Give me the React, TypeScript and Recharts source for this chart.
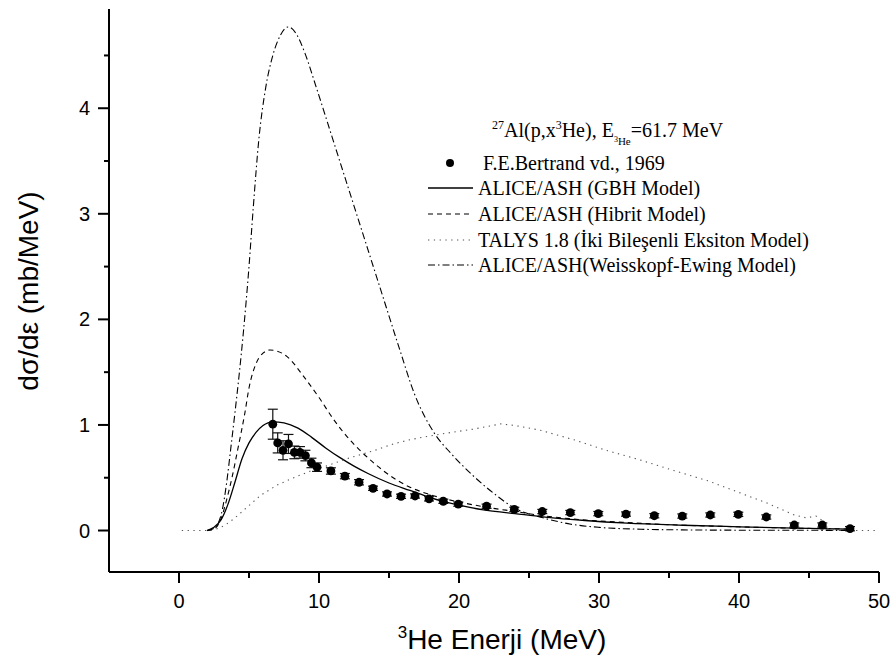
import React from "react";
import { ComposedChart, Line, Scatter, XAxis, YAxis, ErrorBar, Legend, Label } from "recharts";

// experimental points, F.E.Bertrand vd., 1969
const expE = [6.7, 7.05, 7.43, 7.82, 8.24, 8.64, 9.03, 9.46, 9.86, 10.85, 11.85, 12.86, 13.86, 14.86, 15.86, 16.86, 17.86, 18.88, 19.95, 21.97, 23.95, 25.95, 27.95, 29.95, 31.93, 33.95, 35.95, 37.95, 39.95, 41.95, 43.95, 45.95, 47.93];
const expY = [1.007, 0.83, 0.76, 0.82, 0.74, 0.74, 0.71, 0.64, 0.6, 0.564, 0.515, 0.457, 0.4, 0.346, 0.324, 0.327, 0.3, 0.277, 0.25, 0.23, 0.2, 0.18, 0.17, 0.16, 0.156, 0.14, 0.137, 0.147, 0.153, 0.128, 0.052, 0.052, 0.017];
const expErr = [0.142, 0.095, 0.09, 0.09, 0.06, 0.055, 0.05, 0.045, 0.04, 0.03, 0.025, 0.025, 0.02, 0.02, 0.02, 0.02, 0.02, 0.02, 0.02, 0.02, 0.02, 0.02, 0.02, 0.02, 0.02, 0.02, 0.02, 0.02, 0.02, 0.02, 0.02, 0.02, 0.02];

// ALICE/ASH (GBH Model)
const gbhE = [2.0, 2.5, 3.0, 3.5, 4.0, 4.5, 5.0, 5.5, 6.0, 6.7, 7.5, 8.5, 9.5, 10.5, 11.5, 12.5, 13.5, 15, 16.5, 18, 20, 22, 24, 26, 29, 32, 36, 40, 44, 48];
const gbhY = [0, 0.03, 0.1, 0.25, 0.46, 0.68, 0.83, 0.93, 0.995, 1.03, 1.02, 0.97, 0.88, 0.78, 0.69, 0.61, 0.54, 0.45, 0.38, 0.31, 0.24, 0.19, 0.16, 0.13, 0.095, 0.07, 0.05, 0.035, 0.022, 0.014];

// ALICE/ASH (Hibrit Model)
const hibE = [2.0, 2.5, 3.0, 3.4, 3.8, 4.2, 4.7, 5.0, 5.5, 6.0, 6.5, 7.0, 7.7, 8.9, 10.0, 11.0, 12.0, 13.0, 14.0, 15.3, 16.5, 17.7, 19, 20, 22, 24, 26, 29, 32, 36, 40, 44, 48];
const hibY = [0, 0.015, 0.11, 0.29, 0.51, 0.77, 1.11, 1.35, 1.58, 1.68, 1.71, 1.7, 1.65, 1.46, 1.26, 1.06, 0.89, 0.75, 0.63, 0.5, 0.41, 0.35, 0.3, 0.27, 0.22, 0.18, 0.14, 0.1, 0.075, 0.05, 0.035, 0.022, 0.014];

// TALYS 1.8
const talE = [0.2, 1, 2, 2.6, 3.0, 3.5, 4.0, 4.6, 5.2, 5.8, 6.4, 7.0, 8.2, 9.5, 10.5, 12, 13, 14, 15.3, 16.5, 17.7, 19, 20, 21, 22, 23, 24, 25.8, 28.2, 30.5, 32.9, 35.3, 37.8, 39.6, 42, 43.9, 44.8, 45.5, 45.9, 46.3, 47, 48, 49, 49.8];
const talY = [0, 0, 0, 0.01, 0.03, 0.07, 0.12, 0.19, 0.26, 0.33, 0.38, 0.43, 0.5, 0.57, 0.61, 0.68, 0.72, 0.76, 0.82, 0.86, 0.89, 0.92, 0.94, 0.96, 0.985, 1.01, 0.995, 0.95, 0.86, 0.76, 0.67, 0.57, 0.47, 0.38, 0.26, 0.15, 0.12, 0.137, 0.1, 0.02, 0, 0, 0, 0];

// ALICE/ASH (Weisskopf-Ewing Model)
const weE = [2.0, 2.5, 2.8, 3.1, 3.4, 3.7, 4.0, 4.3, 4.6, 5.0, 5.3, 5.7, 6.2, 6.7, 7.2, 7.8, 8.4, 9.0, 9.8, 11, 12.2, 13.4, 14.6, 15.8, 16.8, 18.2, 19.5, 21, 22.5, 24, 26, 28, 30, 33, 36, 40, 45, 48];
const weY = [0, 0.02, 0.07, 0.2, 0.45, 0.78, 1.12, 1.48, 1.88, 2.5, 3.05, 3.7, 4.2, 4.5, 4.68, 4.77, 4.7, 4.52, 4.2, 3.7, 3.2, 2.7, 2.2, 1.7, 1.3, 0.93, 0.72, 0.52, 0.35, 0.21, 0.12, 0.06, 0.03, 0.012, 0.006, 0.003, 0.002, 0.001];

const expName = "F.E.Bertrand vd., 1969";
const seriesNames = [
  "ALICE/ASH (GBH Model)",
  "ALICE/ASH (Hibrit Model)",
  "TALYS 1.8 (İki Bileşenli Eksiton Model)",
  "ALICE/ASH(Weisskopf-Ewing Model)",
];

const xTicks = [0, 5, 10, 15, 20, 25, 30, 35, 40, 45, 50];
const yTicks = [0, 0.5, 1, 1.5, 2, 2.5, 3, 3.5, 4, 4.5];

const pairs = (xs: number[], ys: number[]) => xs.map((x, i) => ({ x, y: ys[i] }));
const expData = expE.map((x, i) => ({ x, y: expY[i], err: expErr[i] }));

const SANS = "'Liberation Sans', Arial, sans-serif";
const SERIF = "'Liberation Serif', 'Times New Roman', serif";

const styles = [
  { stroke: "#000", dash: undefined, width: 1.3 },
  { stroke: "#000", dash: "5 4", width: 1.1 },
  { stroke: "#555", dash: "1.3 4.5", width: 1.1 },
  { stroke: "#000", dash: "7 3 1.5 3", width: 1.1 },
];

const XTick = (props: any) => {
  const { x, y, payload } = props;
  const major = payload.value % 10 === 0;
  return (
    <g>
      <line x1={x} y1={y} x2={x} y2={y + (major ? 11 : 6)} stroke="#000" strokeWidth={2} />
      {major && (
        <text x={x} y={y + 36} textAnchor="middle" fontSize={20} fontFamily={SANS} fill="#000">
          {payload.value}
        </text>
      )}
    </g>
  );
};

const YTick = (props: any) => {
  const { x, y, payload } = props;
  const major = payload.value % 1 === 0;
  return (
    <g>
      <line x1={x - (major ? 11 : 5)} y1={y} x2={x} y2={y} stroke="#000" strokeWidth={2} />
      {major && (
        <text x={x - 19} y={y + 7} textAnchor="end" fontSize={20} fontFamily={SANS} fill="#000">
          {payload.value}
        </text>
      )}
    </g>
  );
};

const LegendBox = () => {
  const rowY = [170, 195, 221, 247, 272];
  return (
    <svg width={890} height={667} style={{ position: "absolute", left: 0, top: 0 }}>
      <text x={492} y={137} fontSize={20} fontFamily={SERIF} fill="#000">
        <tspan fontSize={12} dy={-8}>27</tspan>
        <tspan dy={8}>Al(p,x</tspan>
        <tspan fontSize={12} dy={-8}>3</tspan>
        <tspan dy={8}>He), E</tspan>
        <tspan fontSize={8} dy={5}>3</tspan>
        <tspan fontSize={11} dy={3}>He</tspan>
        <tspan dy={-8}>=61.7 MeV</tspan>
      </text>
      <circle cx={450} cy={163} r={4} fill="#000" />
      <text x={483} y={rowY[0]} fontSize={20} fontFamily={SERIF} fill="#000">
        {expName}
      </text>
      {seriesNames.map((name, i) => (
        <g key={name}>
          <line
            x1={428}
            x2={473}
            y1={rowY[i + 1] - 7}
            y2={rowY[i + 1] - 7}
            stroke={styles[i].stroke}
            strokeWidth={styles[i].width}
            strokeDasharray={styles[i].dash}
          />
          <text x={478} y={rowY[i + 1]} fontSize={20} fontFamily={SERIF} fill="#000">
            {name}
          </text>
        </g>
      ))}
    </svg>
  );
};

const series = [pairs(gbhE, gbhY), pairs(hibE, hibY), pairs(talE, talY), pairs(weE, weY)];

export default function App() {
  return (
    <div style={{ position: "absolute", left: 0, top: 0, width: 890, height: 667, background: "#fff" }}>
      <ComposedChart width={890} height={667} margin={{ top: 9, right: 11, bottom: 0, left: 0 }}>
        <XAxis
          type="number"
          dataKey="x"
          domain={[-5, 50]}
          ticks={xTicks}
          interval={0}
          allowDataOverflow
          height={95}
          tickSize={0}
          tickMargin={0}
          tickLine={false}
          tick={<XTick />}
          axisLine={{ stroke: "#000", strokeWidth: 2 }}
        >
          <Label
            content={() => (
              <text x={502} y={649} textAnchor="middle" fontSize={28} fontFamily={SANS} fill="#000">
                <tspan fontSize={17} dy={-11}>3</tspan>
                <tspan dy={11}>He Enerji (MeV)</tspan>
              </text>
            )}
          />
        </XAxis>
        <YAxis
          type="number"
          domain={[-0.393, 4.94]}
          ticks={yTicks}
          interval={0}
          allowDataOverflow
          width={109}
          tickSize={0}
          tickMargin={0}
          tickLine={false}
          tick={<YTick />}
          axisLine={{ stroke: "#000", strokeWidth: 2 }}
        >
          <Label
            content={() => (
              <text
                x={28}
                y={291}
                transform="rotate(-90, 28, 291)"
                textAnchor="middle"
                dominantBaseline="central"
                fontSize={28}
                fontFamily={SANS}
                fill="#000"
              >
                dσ/dε (mb/MeV)
              </text>
            )}
          />
        </YAxis>
        {series.map((d, i) => (
          <Line
            key={seriesNames[i]}
            data={d}
            dataKey="y"
            name={seriesNames[i]}
            type={i === 2 ? "linear" : "monotone"}
            stroke={styles[i].stroke}
            strokeWidth={styles[i].width}
            strokeDasharray={styles[i].dash}
            dot={false}
            activeDot={false}
            isAnimationActive={false}
          />
        ))}
        <Scatter
          data={expData}
          dataKey="y"
          name={expName}
          isAnimationActive={false}
          shape={(p: any) => <circle cx={p.cx} cy={p.cy} r={4.4} fill="#000" />}
        >
          <ErrorBar dataKey="err" direction="y" width={5} stroke="#111" strokeWidth={1.2} isAnimationActive={false} />
        </Scatter>
        <Legend
          verticalAlign="middle"
          align="center"
          layout="horizontal"
          wrapperStyle={{ left: 0, top: 0, width: 890, height: 667, pointerEvents: "none" }}
          content={() => <LegendBox />}
        />
      </ComposedChart>
    </div>
  );
}
